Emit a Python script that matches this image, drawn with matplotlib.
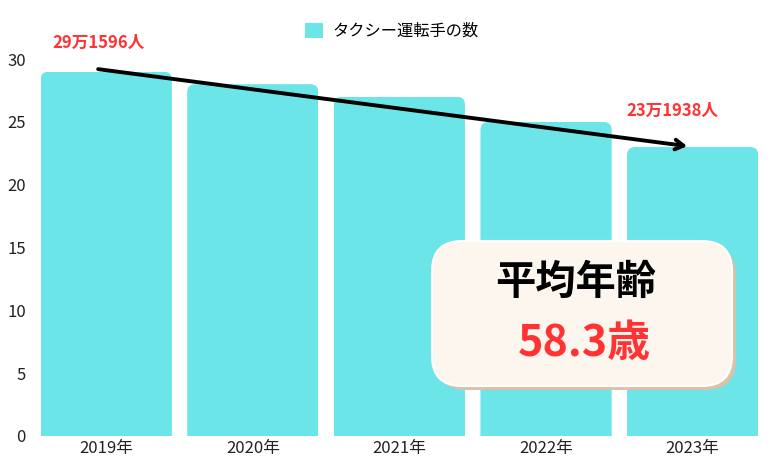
import matplotlib.pyplot as plt
from matplotlib.patches import FancyBboxPatch

plt.rcParams["font.family"] = ["Noto Sans CJK JP", "DejaVu Sans"]

years = ["2019年", "2020年", "2021年", "2022年", "2023年"]
drivers = [29, 28, 27, 25, 23]  # 万人
series_label = "タクシー運転手の数"
first_label = "29万1596人"
last_label = "23万1938人"
age_title = "平均年齢"
age_value = "58.3歳"

BAR = "#6ce5e8"
RED = "#ff3333"

fig = plt.figure(figsize=(7.84, 4.69), dpi=100)
ax = fig.add_axes([0.042, 0.0704, 0.935, 0.8036])

x = list(range(len(years)))
bars = ax.bar(x, drivers, width=0.895, color=BAR, label=series_label)

# round only the top corners: clip each bar with a rounded box that starts below 0
rx = 0.055
ry = 0.64
for b in bars:
    clip = FancyBboxPatch(
        (b.get_x(), -3), b.get_width(), b.get_height() + 3,
        boxstyle=f"round,pad=0,rounding_size={rx}",
        mutation_aspect=ry / rx,
        transform=ax.transData,
    )
    b.set_clip_path(clip)

ax.set_xlim(-0.5, 4.5)
ax.set_ylim(0, 30)
ax.set_yticks([0, 5, 10, 15, 20, 25, 30])
ax.set_xticks(x)
ax.set_xticklabels(years)
ax.tick_params(length=0, labelsize=12, colors="#222222")
ax.tick_params(axis="y", pad=5)
ax.tick_params(axis="x", pad=3)
for s in ax.spines.values():
    s.set_visible(False)

# trend arrow from first to last year
ax.annotate(
    "", xy=(3.963, drivers[-1] + 0.07), xytext=(-0.055, drivers[0] + 0.2),
    arrowprops=dict(arrowstyle="->,head_length=0.6,head_width=0.35", lw=2.8,
                    color="black", shrinkA=0, shrinkB=0),
)

ax.text(-0.055, 31.3, first_label, color=RED, fontsize=12, fontweight="bold",
        ha="center", va="center", clip_on=False)
ax.text(3.86, 25.85, last_label, color=RED, fontsize=12, fontweight="bold",
        ha="center", va="center")

fig.legend(loc="upper center", bbox_to_anchor=(0.5, 0.982), frameon=False,
           fontsize=11.7, handlelength=1.05, handleheight=1.05, handletextpad=0.6)

# average age card
W, H = 784, 469
bx0, by0, bw, bh = 432, 241, 300, 145
r = 30
shadow = FancyBboxPatch(
    ((bx0 + 4) / W, (H - by0 - bh - 4) / H), bw / W, bh / H,
    boxstyle=f"round,pad=0,rounding_size={r / W}", mutation_aspect=W / H,
    transform=fig.transFigure, facecolor="#d9c2aa", edgecolor="none", zorder=5,
)
card = FancyBboxPatch(
    (bx0 / W, (H - by0 - bh) / H), bw / W, bh / H,
    boxstyle=f"round,pad=0,rounding_size={r / W}", mutation_aspect=W / H,
    transform=fig.transFigure, facecolor="#fdf6ef", edgecolor="white", lw=1.5, zorder=6,
)
fig.add_artist(shadow)
fig.add_artist(card)
fig.text(576 / W, 1 - 282 / H, age_title, fontsize=29, fontweight="bold",
         ha="center", va="center", zorder=7)
fig.text(584 / W, 1 - 343 / H, age_value, fontsize=31, fontweight="bold",
         color=RED, ha="center", va="center", zorder=7)

fig.savefig("out.png", dpi=100)
